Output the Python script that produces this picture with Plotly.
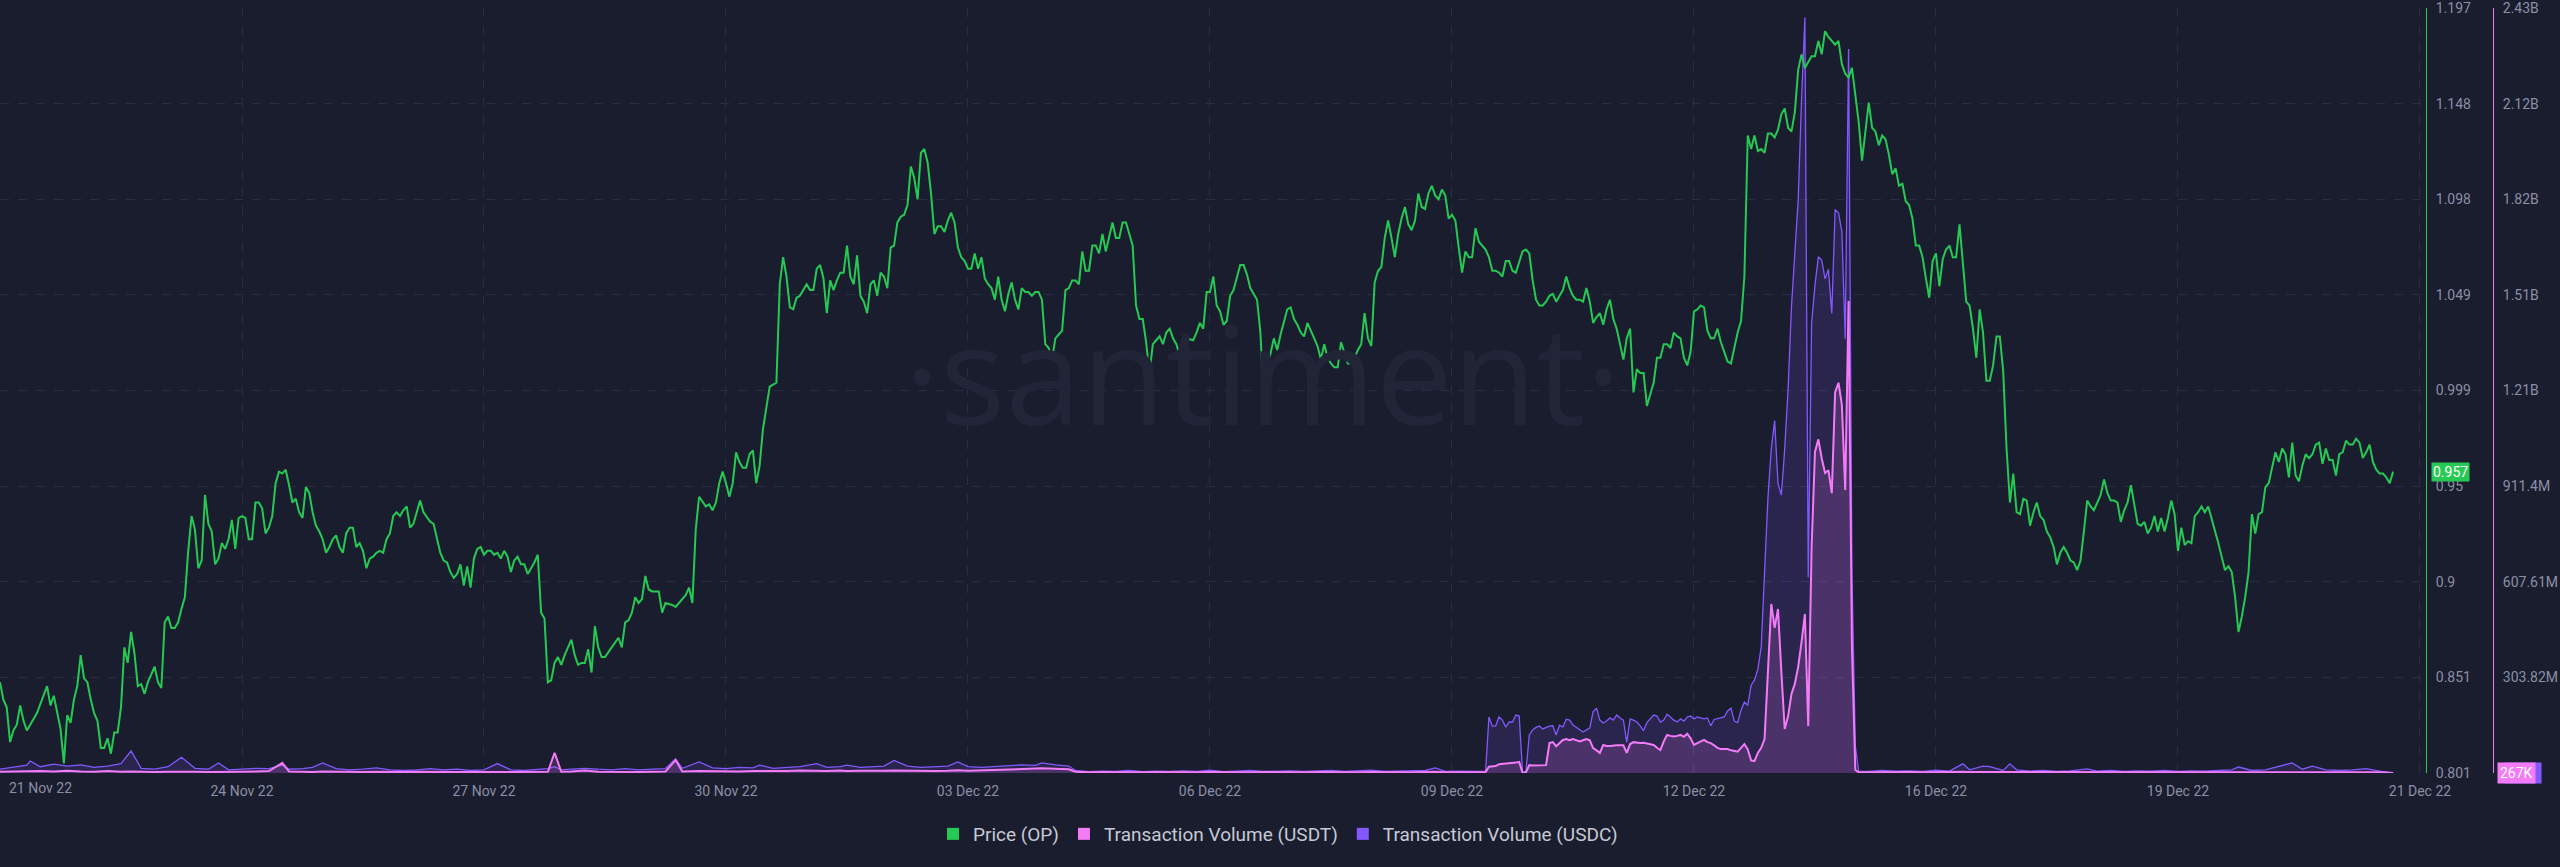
import plotly.graph_objects as go
from datetime import datetime, timedelta

BASE = datetime(2022, 11, 21)

# Hourly OP price from 21 Nov 22 00:00 (None = hour not read off the picture)
price_op = [
    0.848, 0.839, 0.835, 0.817, 0.823, 0.826, 0.836, 0.828, 0.823, None, None, 0.832,
    None, None, 0.846, 0.836, 0.841, None, 0.824, 0.806, 0.831, 0.827, 0.839, 0.846,
    0.862, 0.850, 0.848, 0.839, 0.832, 0.828, 0.814, 0.814, 0.819, 0.811, 0.822, 0.822,
    0.835, 0.866, 0.858, 0.874, 0.863, 0.846, 0.847, 0.842, 0.848, None, 0.856, 0.848,
    0.845, 0.879, 0.882, 0.876, 0.876, 0.879, 0.886, 0.892, 0.916, 0.934, 0.927, 0.907,
    0.911, 0.945, 0.930, 0.926, 0.909, 0.912, 0.920, 0.917, 0.922, 0.932, 0.917, 0.933,
    0.934, 0.933, 0.922, 0.922, 0.941, 0.941, 0.938, 0.925, 0.928, 0.934, 0.951, 0.957,
    0.956, 0.958, 0.950, 0.941, 0.943, 0.936, 0.933, 0.949, 0.946, 0.936, 0.929, 0.926,
    0.922, 0.915, 0.918, 0.922, 0.924, 0.918, 0.915, 0.925, 0.928, 0.928, 0.918, 0.920,
    0.916, 0.907, 0.912, 0.913, 0.915, 0.916, 0.915, 0.922, 0.925, 0.934, 0.936, 0.934,
    0.937, 0.939, 0.928, 0.930, 0.936, 0.942, 0.936, None, 0.931, 0.930, 0.922, 0.915,
    0.911, 0.910, 0.905, 0.902, 0.904, 0.909, 0.898, 0.908, 0.897, 0.912, 0.917, 0.918,
    0.914, 0.916, 0.916, 0.914, 0.915, 0.912, 0.916, 0.913, 0.905, 0.911, 0.913, 0.909,
    0.909, 0.904, 0.907, 0.910, 0.914, 0.884, 0.881, 0.848, 0.849, 0.858, 0.861, 0.857,
    0.862, None, 0.870, 0.862, 0.857, 0.858, 0.858, 0.865, 0.853, 0.877, 0.866, 0.861,
    0.861, None, 0.866, None, 0.871, 0.866, 0.879, 0.880, 0.884, 0.892, 0.889, 0.891,
    0.903, 0.896, 0.895, None, 0.895, 0.884, 0.889, None, 0.888, 0.887, 0.889, 0.891,
    0.893, 0.897, 0.889, 0.927, 0.944, None, 0.939, 0.940, 0.937, 0.941, 0.951, 0.957,
    0.951, 0.944, 0.951, 0.967, 0.962, 0.959, 0.959, 0.966, 0.968, 0.951, 0.960, 0.979,
    0.990, 1.001, 1.002, 1.003, 1.054, 1.068, 1.058, 1.042, 1.041, 1.047, 1.048, None,
    1.054, 1.051, 1.051, 1.062, 1.064, 1.057, 1.039, 1.056, 1.051, 1.056, 1.060, 1.060,
    1.074, 1.058, 1.054, 1.069, 1.048, 1.045, 1.039, 1.054, 1.056, 1.048, 1.060, 1.058,
    1.052, 1.073, 1.074, 1.086, 1.089, 1.090, 1.095, 1.115, 1.109, 1.098, 1.122, 1.124,
    1.117, 1.101, 1.080, 1.084, 1.084, 1.081, 1.087, 1.091, 1.086, 1.073, 1.068, 1.066,
    1.062, 1.062, 1.070, 1.062, 1.068, 1.057, 1.054, 1.052, 1.046, 1.058, 1.046, 1.040,
    1.049, 1.055, 1.046, 1.041, 1.052, 1.050, 1.050, 1.048, 1.050, 1.050, 1.046, 1.023,
    1.021, 1.015, 1.026, 1.028, 1.030, 1.051, 1.052, 1.056, 1.056, 1.054, 1.071, 1.061,
    1.061, 1.074, 1.074, 1.070, 1.080, 1.071, 1.079, 1.086, 1.078, 1.078, 1.086, 1.086,
    1.080, 1.074, 1.043, 1.036, 1.036, 1.024, 1.008, 1.023, 1.025, 1.027, 1.023, 1.029,
    1.031, 1.026, 1.023, 1.017, 1.023, 1.026, None, 1.025, 1.029, 1.034, 1.031, 1.050,
    1.050, 1.058, 1.043, 1.040, 1.033, 1.035, 1.048, 1.051, 1.058, 1.064, 1.064, 1.059,
    1.052, 1.049, 1.046, 1.029, 0.994, 1.013, 1.018, 1.026, 1.020, 1.028, 1.035, 1.041,
    1.042, 1.036, 1.033, 1.029, 1.027, 1.034, 1.030, 1.026, 1.022, 1.015, 1.023, 1.016,
    1.013, 1.011, 1.011, 1.024, 1.018, 1.013, 1.013, 1.016, 1.020, 1.023, 1.039, 1.026,
    1.022, 1.055, 1.061, 1.063, 1.078, 1.087, 1.078, 1.068, 1.080, 1.088, 1.094, 1.085,
    1.082, 1.087, 1.101, 1.094, 1.093, 1.101, 1.105, 1.100, 1.098, 1.103, 1.100, 1.088,
    1.090, 1.087, 1.073, 1.060, 1.071, 1.068, 1.068, 1.083, 1.076, 1.074, 1.072, 1.068,
    1.061, 1.061, 1.060, 1.058, 1.066, 1.066, 1.061, 1.060, 1.066, 1.071, 1.072, 1.070,
    1.056, 1.046, 1.043, 1.043, 1.045, 1.048, 1.049, 1.045, 1.048, 1.051, 1.058, 1.052,
    1.048, 1.046, 1.046, 1.045, 1.052, 1.045, 1.034, 1.037, 1.039, 1.033, 1.041, 1.046,
    1.036, 1.031, 1.023, 1.015, 1.026, 1.031, 0.998, 1.010, 1.008, 1.008, 0.991, 0.997,
    1.003, 1.016, 1.016, 1.023, 1.023, 1.021, 1.029, 1.027, 1.026, 1.016, 1.012, 1.019,
    1.040, 1.041, 1.043, 1.042, 1.030, 1.026, 1.026, 1.031, 1.024, 1.019, 1.014, 1.013,
    1.022, 1.029, 1.035, 1.058, 1.131, 1.124, 1.131, 1.123, 1.124, 1.122, 1.132, 1.132,
    1.130, 1.134, 1.142, 1.145, 1.135, 1.133, 1.143, 1.165, 1.173, 1.166, 1.169, 1.172,
    1.172, 1.180, 1.173, 1.185, 1.182, 1.180, 1.178, 1.180, 1.168, 1.163, 1.161, 1.166,
    1.151, 1.138, 1.118, 1.134, 1.148, 1.135, 1.133, 1.126, 1.131, 1.129, 1.121, 1.111,
    1.114, 1.105, 1.106, 1.097, 1.095, 1.088, 1.074, 1.074, 1.068, 1.057, 1.047, 1.066,
    1.070, 1.053, 1.067, 1.072, 1.074, 1.068, 1.068, 1.085, 1.064, 1.045, 1.043, 1.031,
    1.016, 1.041, 1.029, 1.004, 1.004, 1.012, 1.027, 1.027, 1.009, 0.969, 0.941, 0.956,
    0.936, 0.935, 0.943, 0.942, 0.929, 0.936, 0.941, 0.934, 0.932, 0.926, 0.923, 0.918,
    0.909, 0.915, 0.918, 0.915, 0.911, 0.910, 0.906, 0.911, 0.926, 0.942, 0.939, 0.937,
    0.941, 0.945, 0.953, 0.946, 0.942, 0.942, 0.941, 0.931, 0.937, 0.941, 0.950, 0.939,
    0.930, 0.929, 0.931, 0.925, 0.928, 0.934, 0.926, 0.933, 0.926, 0.933, 0.942, 0.935,
    0.916, 0.928, 0.919, 0.921, 0.920, 0.934, 0.936, 0.939, 0.936, 0.939, 0.933, 0.926,
    0.920, 0.913, 0.906, 0.908, 0.905, 0.892, 0.874, 0.882, 0.892, 0.905, 0.935, 0.925,
    0.935, 0.936, 0.949, 0.951, 0.960, 0.967, 0.962, 0.969, 0.966, 0.954, 0.972, 0.955,
    0.952, 0.960, 0.966, 0.964, 0.966, 0.971, 0.972, 0.961, 0.969, 0.963, 0.963, 0.955,
    0.966, 0.967, 0.973, 0.971, 0.971, 0.974, 0.972, 0.964, 0.967, 0.971, 0.962, 0.958,
    0.956, 0.956, 0.954, 0.951, 0.957,
]

# Transaction volume samples (hours since 21 Nov 22 00:00, values in millions USD)
vol_hours = [
    0, 4, 8, 9, 12, 16, 20, 24, 28, 32, 36, 39, 42, 46, 50, 54, 58, 62, 65, 68,
    72, 76, 80, 84, 86, 90, 93, 96, 100, 104, 108, 112, 116, 120, 124, 128, 132, 136, 140, 144,
    148, 152, 156, 160, 163, 165, 167, 170, 174, 178, 182, 186, 190, 194, 198, 201, 203, 208, 212, 216,
    220, 224, 226, 230, 234, 238, 243, 246, 250, 252, 256, 260, 263, 266, 270, 274, 278, 282, 285, 288,
    292, 296, 300, 304, 308, 310, 314, 318, 320, 324, 328, 332, 336, 340, 344, 348, 352, 356, 360, 364,
    368, 372, 376, 380, 384, 388, 392, 396, 400, 404, 408, 412, 416, 420, 424, 427, 430, 434, 438, 441,
    442, 443, 444, 445, 446, 447, 448, 449, 450, 451, 452, 453, 454,
    455, 456, 457, 458, 459, 460, 461, 462, 463, 464, 465, 466,
    467, 468, 469, 470, 471, 472, 473, 474, 475, 476, 477, 478,
    479, 480, 481, 482, 483, 484, 485, 486, 487, 488, 489, 490,
    491, 492, 493, 494, 495, 496, 497, 498, 499, 500, 501, 502,
    503, 504, 505, 506, 507, 508, 509, 510, 511, 512, 513, 514,
    515, 516, 517, 518, 519, 520, 521, 522, 523, 524, 525, 526,
    527, 528, 529, 530, 531, 532, 533, 534, 535, 536, 537, 538,
    539, 540, 541, 542, 543, 544, 545, 546, 547, 548, 549, 550,
    551, 552, 553,
    556, 560, 564, 568, 572, 576, 580, 584, 586, 590, 592, 596, 598, 600, 604, 608, 612, 616, 621, 624,
    628, 632, 636, 640, 644, 648, 652, 656, 660, 664, 666, 670, 674, 678, 682, 685, 688, 692, 696, 700,
    704, 708, 712,
]

usdt_volume_musd = [
    4, 5, 4, 5, 6, 5, 7, 5, 4, 6, 4, 5, 4, 3, 4, 5, 4, 3, 4, 3,
    4, 5, 6, 32, 5, 4, 3, 5, 4, 3, 3, 4, 3, 3, 4, 3, 4, 3, 3, 4,
    3, 3, 4, 3, 4, 64, 4, 5, 8, 4, 3, 4, 3, 4, 5, 41, 5, 6, 5, 6,
    5, 6, 6, 5, 6, 8, 7, 6, 8, 6, 7, 6, 7, 8, 7, 6, 6, 7, 9, 7,
    8, 9, 12, 13, 14, 15, 13, 12, 4, 2, 3, 2, 3, 2, 3, 2, 3, 2, 3, 2,
    3, 2, 3, 2, 3, 2, 3, 2, 3, 2, 3, 2, 3, 2, 3, 4, 2, 3, 2, 3,
    3, 20, 22, 22, 28, 29, 29, 29, 30, 33, 35, 1, 2,
    25, 24, 24, 24, 24, 25, 95, 98, 85, 95, 105, 108,
    104, 108, 104, 100, 104, 108, 104, 79, 72, 64, 89, 86,
    86, 88, 88, 88, 88, 64, 92, 98, 96, 95, 96, 93,
    90, 89, 80, 73, 100, 121, 118, 116, 118, 121, 115, 125,
    110, 89, 95, 100, 105, 98, 95, 88, 80, 76, 76, 76,
    72, 70, 68, 80, 92, 75, 40, 38, 64, 80, 108, 321,
    537, 461, 521, 321, 140, 181, 251, 283, 337, 416, 505, 149,
    718, 1020, 1060, 1000, 953, 962, 889, 1210, 1240, 1170, 899, 1500,
    400, 10, 2,
    2, 3, 2, 3, 2, 3, 2, 4, 3, 3, 2, 3, 4, 3, 2, 3, 2, 3, 3, 2,
    3, 2, 3, 2, 3, 2, 3, 2, 3, 3, 4, 3, 3, 4, 4, 3, 4, 3, 3, 3,
    4, 2, 0.267,
]

usdc_volume_musd = [
    12, 18, 25, 38, 20, 28, 22, 26, 18, 22, 30, 70, 15, 12, 20, 50, 15, 12, 32, 10,
    12, 15, 14, 25, 12, 14, 18, 32, 14, 10, 12, 16, 10, 8, 10, 14, 10, 12, 8, 10,
    30, 10, 8, 12, 14, 20, 10, 12, 15, 12, 10, 14, 10, 12, 14, 45, 15, 35, 16, 14,
    18, 16, 25, 15, 18, 20, 30, 18, 20, 25, 18, 20, 22, 40, 22, 18, 20, 22, 35, 20,
    18, 20, 22, 26, 24, 32, 26, 22, 8, 4, 6, 5, 8, 4, 6, 5, 7, 5, 9, 4,
    6, 8, 5, 6, 7, 5, 6, 8, 5, 6, 9, 5, 6, 5, 8, 16, 5, 6, 5, 5,
    5, 178, 149, 150, 178, 168, 146, 162, 162, 184, 181, 2, 4,
    121, 137, 145, 149, 140, 145, 149, 150, 121, 152, 146, 171,
    168, 152, 145, 137, 130, 137, 143, 195, 206, 168, 159, 165,
    175, 168, 184, 175, 168, 98, 171, 168, 162, 150, 135, 160,
    172, 184, 181, 162, 168, 187, 178, 168, 162, 172, 165, 178,
    181, 172, 178, 175, 172, 175, 150, 170, 172, 175, 178, 197,
    206, 165, 160, 200, 225, 215, 279, 295, 330, 400, 638, 873,
    1030, 1120, 920, 883, 1030, 1220, 1480, 1640, 1820, 2140, 2400, 622,
    1430, 1550, 1640, 1630, 1570, 1600, 1460, 1790, 1780, 1720, 1380, 2300,
    638, 86, 6,
    5, 8, 6, 7, 5, 9, 6, 29, 10, 22, 20, 8, 29, 10, 6, 8, 5, 7, 13, 6,
    8, 5, 7, 6, 8, 5, 7, 6, 8, 10, 19, 8, 10, 22, 32, 12, 22, 10, 8, 10,
    14, 6, 0.3,
]

x_tick_days = [0, 3, 6, 9, 12, 15, 18, 21, 24, 27, 30]
x_tick_labels = ["21 Nov 22", "24 Nov 22", "27 Nov 22", "30 Nov 22", "03 Dec 22", "06 Dec 22",
                 "09 Dec 22", "12 Dec 22", "16 Dec 22", "19 Dec 22", "21 Dec 22"]
price_axis_range = [0.801, 1.197]
price_tick_labels = ["0.801", "0.851", "0.9", "0.95", "0.999", "1.049", "1.098", "1.148", "1.197"]
volume_axis_max_musd = 2430.56
volume_tick_labels = ["", "303.82M", "607.61M", "911.4M", "1.21B", "1.51B", "1.82B", "2.12B", "2.43B"]

BG = "#1a1d2e"
GRID = "#2a2e43"
GREEN = "#26c953"
PINK = "#f47bf7"
PURPLE = "#8358ff"
TICK = "#8b8fa6"
FONT = "Roboto"

W, H = 2560, 867
PLOT_L, PLOT_R, PLOT_T, PLOT_B = 0, 2493, 8, 773
X_END = 2424
PRICE_AXIS_X = 2426

price_x = [BASE + timedelta(hours=i) for i in range(len(price_op))]
vol_x = [BASE + timedelta(hours=h) for h in vol_hours]

fig = go.Figure()
fig.add_trace(go.Scatter(
    x=vol_x, y=usdc_volume_musd, mode="lines", yaxis="y",
    line=dict(color=PURPLE, width=1.3), fill="tozeroy", fillcolor="rgba(131,88,255,0.15)",
    showlegend=False, hoverinfo="skip"))
fig.add_trace(go.Scatter(
    x=vol_x, y=usdt_volume_musd, mode="lines", yaxis="y",
    line=dict(color=PINK, width=2), fill="tozeroy", fillcolor="rgba(244,123,247,0.17)",
    showlegend=False, hoverinfo="skip"))
fig.add_trace(go.Scatter(
    x=price_x, y=price_op, mode="lines", yaxis="y2", connectgaps=True,
    line=dict(color=GREEN, width=2), showlegend=False, hoverinfo="skip"))

for name, col in [("Price (OP)", GREEN), ("Transaction Volume (USDT)", PINK),
                  ("Transaction Volume (USDC)", PURPLE)]:
    fig.add_trace(go.Scatter(x=[None], y=[None], mode="markers", name=name,
                             marker=dict(symbol="square", size=12, color=col)))

plot_w = PLOT_R - PLOT_L
plot_h = PLOT_B - PLOT_T


def px_x(p):
    return (p - PLOT_L) / plot_w


def px_y(p):
    return (PLOT_B - p) / plot_h


n_price = len(price_tick_labels) - 1
price_step = (price_axis_range[1] - price_axis_range[0]) / n_price
price_tickvals = [round(price_axis_range[0] + k * price_step, 6) for k in range(n_price + 1)]
n_vol = len(volume_tick_labels) - 1
vol_step = volume_axis_max_musd / n_vol
vol_tickvals = [round(k * vol_step, 4) for k in range(n_vol + 1)]

fig.update_layout(
    width=W, height=H, autosize=False,
    paper_bgcolor=BG, plot_bgcolor=BG,
    margin=dict(l=PLOT_L, r=W - PLOT_R, t=PLOT_T, b=H - PLOT_B, pad=0),
    font=dict(family=FONT, color=TICK, size=14),
    showlegend=True,
    legend=dict(orientation="h", x=px_x(1278), xanchor="center", y=px_y(834), yanchor="middle",
                font=dict(size=19, color="#c6c9d5", family=FONT), bgcolor="rgba(0,0,0,0)",
                itemwidth=30, itemclick=False),
    xaxis=dict(
        domain=[0, px_x(X_END)], type="date",
        range=[BASE, BASE + timedelta(hours=721.2)],
        tickvals=[BASE + timedelta(days=d) for d in x_tick_days],
        ticktext=[""] + x_tick_labels[1:],
        ticks="outside", ticklen=5, tickcolor="rgba(0,0,0,0)",
        showgrid=True, gridcolor=GRID, griddash="dash", gridwidth=1,
        showline=False, zeroline=False, tickfont=dict(size=14, color=TICK), automargin=False,
        ticklabeloverflow="allow",
    ),
    yaxis=dict(
        range=[0, volume_axis_max_musd + 0.01], side="right", anchor="free", position=1.0,
        tickvals=vol_tickvals, ticktext=volume_tick_labels,
        ticks="outside", ticklen=6, tickcolor="rgba(0,0,0,0)",
        showgrid=True, gridcolor=GRID, griddash="dash", gridwidth=1,
        showline=True, linecolor=PINK, linewidth=1, zeroline=False,
        tickfont=dict(size=14, color=TICK), automargin=False, ticklabeloverflow="allow",
    ),
    yaxis2=dict(
        range=[price_axis_range[0], price_axis_range[1] + 1e-6], overlaying="y", side="right",
        anchor="free", position=px_x(PRICE_AXIS_X),
        tickvals=price_tickvals, ticktext=price_tick_labels,
        ticks="outside", ticklen=6, tickcolor="rgba(0,0,0,0)",
        showgrid=False, showline=True, linecolor=GREEN, linewidth=1, zeroline=False,
        tickfont=dict(size=14, color=TICK), automargin=False, ticklabeloverflow="allow",
    ),
)

annotations = [
    dict(text="·santiment·", xref="paper", yref="paper", x=px_x(1263), y=px_y(372),
         xanchor="center", yanchor="middle", showarrow=False,
         font=dict(size=137, color="#222537", family="Open Sans", weight=400)),
    dict(text=x_tick_labels[0], xref="paper", yref="paper", x=px_x(7), y=px_y(788),
         xanchor="left", yanchor="middle", showarrow=False, font=dict(size=14, color=TICK)),
    dict(text=f"{price_op[-1]:.3f}", xref="paper", yref="y2", x=px_x(2431), y=price_op[-1],
         xanchor="left", yanchor="middle", showarrow=False, bgcolor=GREEN, borderpad=1,
         font=dict(size=14, color="#ffffff")),
    dict(text=f"{usdc_volume_musd[-1] * 1000:.0f}K", xref="paper", yref="y", x=px_x(2503), y=0,
         xanchor="left", yanchor="middle", showarrow=False, bgcolor=PURPLE, borderpad=2,
         font=dict(size=14, color=PURPLE)),
    dict(text=f"{usdt_volume_musd[-1] * 1000:.0f}K", xref="paper", yref="y", x=px_x(2497), y=0,
         xanchor="left", yanchor="middle", showarrow=False, bgcolor=PINK, borderpad=2,
         font=dict(size=14, color="#ffffff")),
]
fig.update_layout(annotations=annotations)

fig.write_html("out.html", config={"displayModeBar": False},
               post_script="document.body.style.margin='0';document.body.style.overflow='hidden';")
